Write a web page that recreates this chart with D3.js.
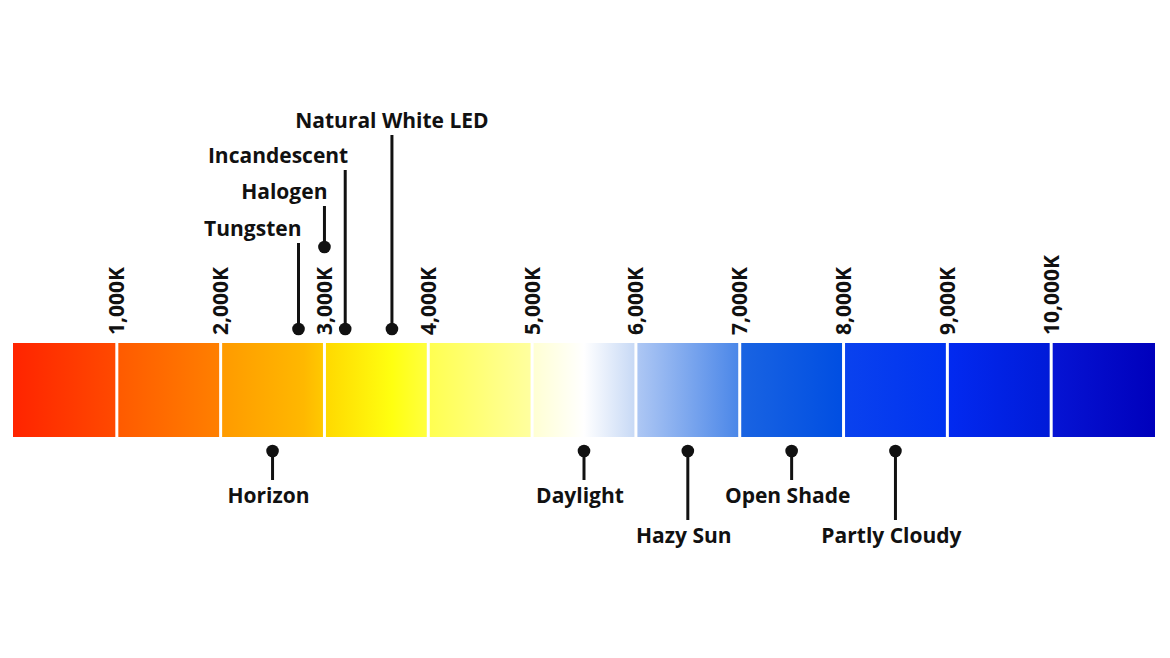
<!DOCTYPE html>
<html>
<head>
<meta charset="utf-8">
<script src="https://cdn.jsdelivr.net/npm/d3@7"></script>
<style>
  html, body { margin: 0; padding: 0; background: #fff; }
  text { font-family: "Open Sans", "Noto Sans", sans-serif; font-weight: 700; fill: #111; }
</style>
</head>
<body>
<div id="chart"></div>
<script>
// colour temperature ticks (Kelvin)
const tickKelvin = [1000, 2000, 3000, 4000, 5000, 6000, 7000, 8000, 9000, 10000];

// light sources
const lightNames  = ["Tungsten", "Halogen", "Incandescent", "Natural White LED",
                     "Horizon", "Daylight", "Hazy Sun", "Open Shade", "Partly Cloudy"];
const lightKelvin = [2750, 3000, 3200, 3650, 2500, 5500, 6500, 7500, 8500];
const lightSide   = ["above", "above", "above", "above", "below", "below", "below", "below", "below"];
const lightTier   = [0, 1, 2, 3, 0, 0, 1, 0, 1];

// spectrum colours: [kelvin, colour]
const spectrumKelvin = [0, 1000, 1000, 2000, 2000, 2800, 3000, 3000, 3650, 4000, 4000, 5000, 5000, 5500, 6000, 6000, 7000, 7000, 8000, 8000, 9000, 9000, 10000, 10000, 11000];
const spectrumColor  = ["#ff2400", "#ff4a00", "#ff5a00", "#ff8000", "#ff9a00", "#ffb800", "#ffca00",
                        "#ffd800", "#ffff10", "#ffff40", "#ffff50", "#ffffa0", "#ffffd2", "#ffffff", "#c6d8f5",
                        "#afc8f4", "#4a86e8", "#1a64e2", "#004ee2", "#0a42ee", "#0032f0", "#022af0", "#001ad8",
                        "#0614d4", "#0000bc"];

const width = 1170, height = 658;
const barTop = 343, barBottom = 437;
const fontSize = 21;

const svg = d3.select("#chart").append("svg")
  .attr("width", width)
  .attr("height", height);

const x = d3.scaleLinear()
  .domain([0, 11000])
  .range([13, 1155]);

// gradient for the spectrum bar
const grad = svg.append("defs").append("linearGradient")
  .attr("id", "spectrum")
  .attr("gradientUnits", "userSpaceOnUse")
  .attr("x1", x(0)).attr("x2", x(11000))
  .attr("y1", 0).attr("y2", 0);

grad.selectAll("stop")
  .data(spectrumKelvin)
  .enter().append("stop")
  .attr("offset", d => d / 11000)
  .attr("stop-color", (d, i) => spectrumColor[i]);

svg.append("rect")
  .attr("x", x(0))
  .attr("y", barTop)
  .attr("width", x(11000) - x(0))
  .attr("height", barBottom - barTop)
  .style("fill", "url(#spectrum)");

// white separators
svg.selectAll(".sep")
  .data(tickKelvin)
  .enter().append("line")
  .attr("class", "sep")
  .attr("x1", d => x(d)).attr("x2", d => x(d))
  .attr("y1", barTop).attr("y2", barBottom)
  .style("stroke", "#fff")
  .style("stroke-width", 3);

// rotated tick labels
const fmt = d3.format(",");
const tickBase = barTop - 8;
svg.selectAll(".tick")
  .data(tickKelvin)
  .enter().append("text")
  .attr("class", "tick")
  .attr("transform", d => "translate(" + x(d) + "," + tickBase + ") rotate(-90)")
  .attr("dy", "0.36em")
  .style("font-size", fontSize + "px")
  .text(d => fmt(d) + "K");

// markers
const aboveBase = [236, 199, 163, 128];
const belowBase = [503, 543];
const dotR = 6.3;

const lights = lightNames.map((name, i) => {
  const cx = x(lightKelvin[i]);
  let dotY, lineEnd, labelY, anchor, labelX;
  if (lightSide[i] === "above") {
    labelY = aboveBase[lightTier[i]];
    lineEnd = labelY + 7;
    // dot would sit on top of a tick label: lift it above the label
    dotY = tickKelvin.includes(lightKelvin[i]) ? 247 : barTop - 14;
    anchor = lightTier[i] === 3 ? "middle" : "end";
    labelX = anchor === "end" ? cx + 3 : cx;
  } else {
    labelY = belowBase[lightTier[i]];
    lineEnd = labelY - 23;
    dotY = barBottom + 14;
    anchor = "middle";
    labelX = cx - 4;
  }
  return {name, cx, dotY, lineEnd, labelY, anchor, labelX};
});

const g = svg.selectAll(".light")
  .data(lights)
  .enter().append("g")
  .attr("class", "light");

g.append("line")
  .attr("x1", d => d.cx).attr("x2", d => d.cx)
  .attr("y1", d => d.dotY).attr("y2", d => d.lineEnd)
  .style("stroke", "#111")
  .style("stroke-width", 3);

g.append("circle")
  .attr("cx", d => d.cx)
  .attr("cy", d => d.dotY)
  .attr("r", dotR)
  .style("fill", "#111");

g.append("text")
  .attr("x", d => d.labelX)
  .attr("y", d => d.labelY)
  .attr("text-anchor", d => d.anchor)
  .style("font-size", fontSize + "px")
  .text(d => d.name);
</script>
</body>
</html>
